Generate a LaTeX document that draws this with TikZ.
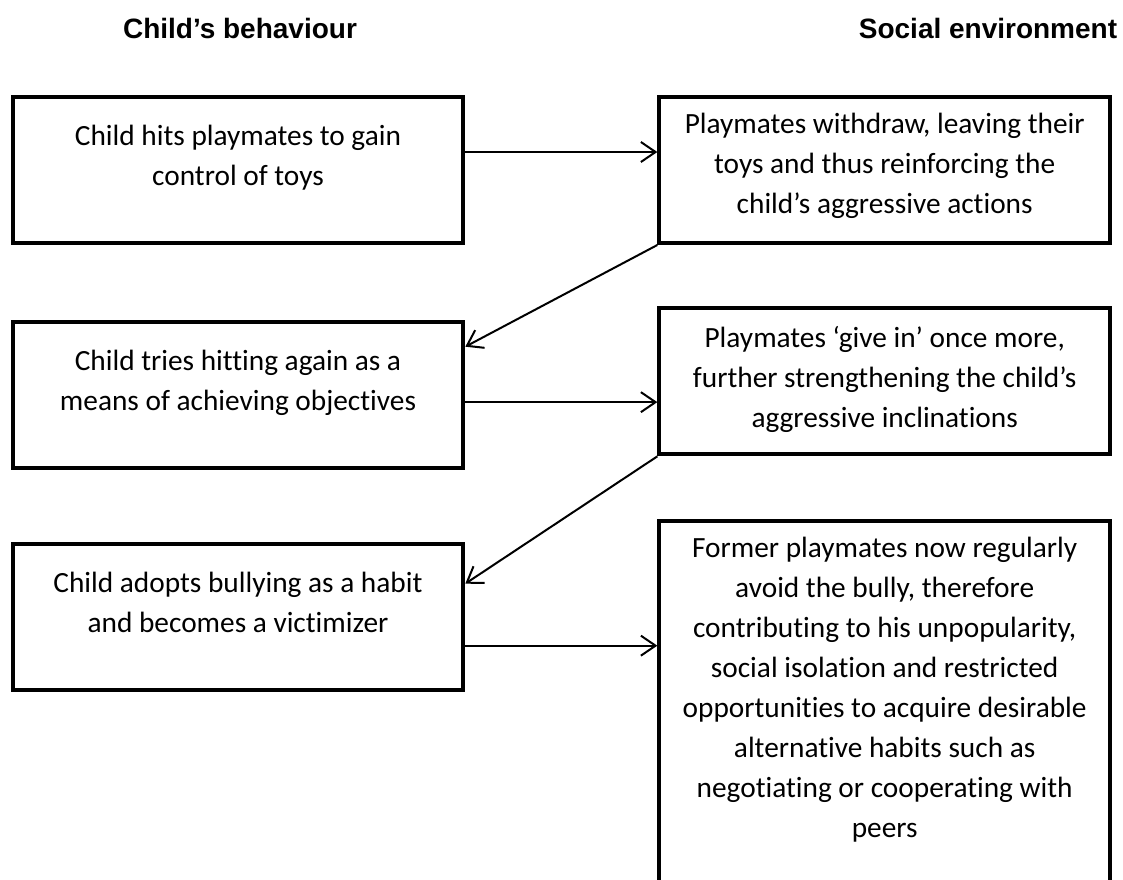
\documentclass[tikz,border=0pt]{standalone}
\usepackage{fontspec}
\setmainfont{Carlito}[Ligatures=NoCommon]
\newfontfamily\headfont{Liberation Sans}
\usetikzlibrary{arrows.meta,positioning}

\begin{document}
\begin{tikzpicture}[x=0.75pt,y=-0.75pt,->,>={Straight Barb[length=11pt,width=15pt]},
                    line width=1.5pt]
  \tikzset{stage/.style={draw,line width=3pt,minimum width=338pt,
                         minimum height=109.5pt,inner sep=0pt},
           words/.style={font=\fontsize{22}{30}\selectfont,align=center,
                         anchor=north,inner sep=0pt},
           head/.style={font=\headfont\bfseries\fontsize{21}{25}\selectfont}}

  \clip (0,0) rectangle (1123,879);

  \node[head]  (h1) at (240,28) {Child’s behaviour};
  \node[head]  (h2) at (988,28) {Social environment};

  \node[stage] (L1) at (238,170)     {};
  \node[stage] (R1) [right=144pt of L1] {};
  \node[stage] (L2) [below=56pt of L1]  {};
  \node[stage] (R2) [below=46pt of R1]  {};
  \node[stage] (L3) [below=54pt of L2]  {};
  \node[stage] (R3) [below=47pt of R2,minimum height=290pt] {};

  \node[words] (t1) at ([yshift=-21.75pt]L1.north) {Child hits playmates to gain\\control of toys};
  \node[words] (t2) at ([yshift=-13pt]R1.north) {Playmates withdraw, leaving their\\toys and thus reinforcing the\\child’s aggressive actions};
  \node[words] (t3) at ([yshift=-21.75pt]L2.north) {Child tries hitting again as a\\means of achieving objectives};
  \node[words] (t4) at ([yshift=-14.25pt]R2.north) {Playmates ‘give in’ once more,\\further strengthening the child’s\\aggressive inclinations};
  \node[words] (t5) at ([yshift=-21.75pt]L3.north) {Child adopts bullying as a habit\\and becomes a victimizer};
  \node[words] (t6) at ([yshift=-13pt]R3.north) {Former playmates now regularly\\avoid the bully, therefore\\contributing to his unpopularity,\\social isolation and restricted\\opportunities to acquire desirable\\alternative habits such as\\negotiating or cooperating with\\peers};

  \coordinate (a1) at ([yshift=13.5pt]L1.east);
  \coordinate (a2) at ([yshift=-5.6pt]L2.east);
  \coordinate (a3) at ([yshift=-21.75pt]L3.east);
  \coordinate (d1) at ([yshift=-20.25pt]L2.north east);
  \coordinate (d2) at ([yshift=-31.5pt]L3.north east);

  \path (a1)              edge (a1 -| R1.west)
        (R1.south west)   edge (d1)
        (a2)              edge (a2 -| R2.west)
        (R2.south west)   edge (d2)
        (a3)              edge (a3 -| R3.west);
\end{tikzpicture}
\end{document}
